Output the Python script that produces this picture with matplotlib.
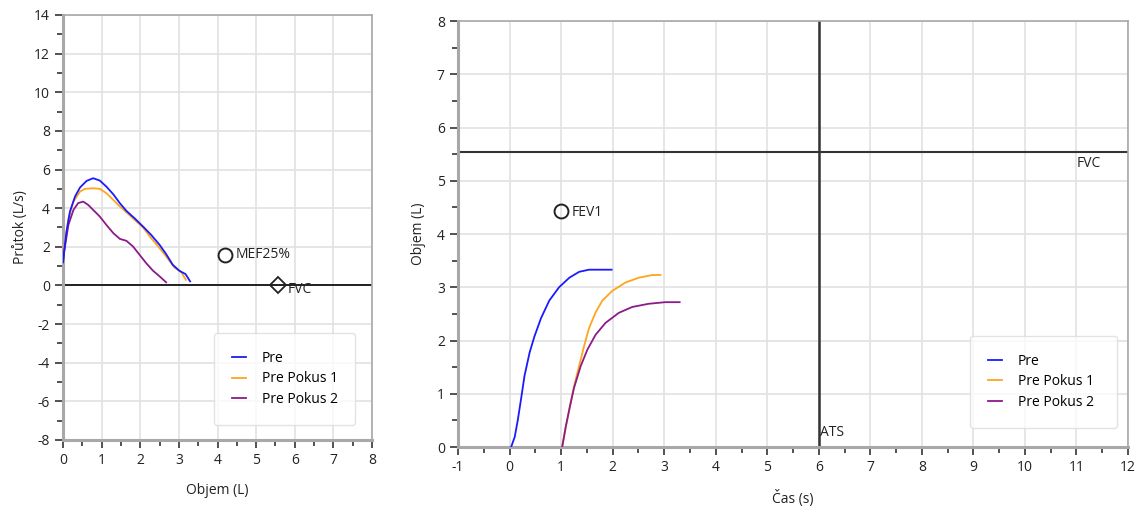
import matplotlib
matplotlib.use("Agg")
import matplotlib.pyplot as plt
from matplotlib.ticker import MultipleLocator

plt.rcParams['font.family'] = ['Open Sans', 'DejaVu Sans']
plt.rcParams['axes.unicode_minus'] = False

# Donnees : courbe debit-volume (gauche)
fv_pre_x = [0.0, 0.03, 0.09, 0.18, 0.31, 0.44, 0.61, 0.78, 0.95, 1.12, 1.30, 1.47, 1.64,
            1.85, 2.07, 2.28, 2.50, 2.67, 2.84, 3.01, 3.17, 3.29]
fv_pre_y = [1.2, 1.76, 2.79, 3.83, 4.60, 5.07, 5.41, 5.55, 5.43, 5.12, 4.72, 4.26, 3.86,
            3.48, 3.05, 2.62, 2.10, 1.62, 1.07, 0.76, 0.59, 0.21]
fv_p1_x = [0.0, 0.03, 0.14, 0.27, 0.44, 0.57, 0.78, 0.95, 1.12, 1.30, 1.47, 1.64, 1.85,
           2.07, 2.28, 2.50, 2.67, 2.88, 3.06, 3.18]
fv_p1_y = [1.2, 1.93, 3.48, 4.34, 4.86, 5.00, 5.03, 5.00, 4.78, 4.43, 4.09, 3.79, 3.40,
           3.00, 2.45, 1.93, 1.50, 0.93, 0.69, 0.29]
fv_p2_x = [0.0, 0.03, 0.14, 0.27, 0.39, 0.52, 0.65, 0.78, 0.95, 1.12, 1.30, 1.47, 1.64,
           1.81, 1.98, 2.15, 2.33, 2.50, 2.67]
fv_p2_y = [1.2, 1.76, 3.14, 3.91, 4.26, 4.34, 4.17, 3.91, 3.57, 3.14, 2.71, 2.41, 2.31,
           2.02, 1.59, 1.16, 0.76, 0.47, 0.16]
mef25 = (4.2, 1.6)
fvc_fv = (5.57, 0.0)

# Donnees : courbe volume-temps (droite)
vt_pre_x = [0.03, 0.10, 0.16, 0.23, 0.29, 0.39, 0.48, 0.61, 0.77, 0.96, 1.16, 1.35, 1.54, 1.98]
vt_pre_y = [0.0, 0.19, 0.51, 0.95, 1.34, 1.78, 2.07, 2.42, 2.75, 3.00, 3.18, 3.29, 3.33, 3.33]
vt_p1_x = [1.02, 1.09, 1.17, 1.25, 1.35, 1.45, 1.54, 1.67, 1.80, 1.99, 2.25, 2.51, 2.77, 2.93]
vt_p1_y = [0.0, 0.38, 0.76, 1.14, 1.53, 1.91, 2.23, 2.53, 2.75, 2.93, 3.09, 3.18, 3.23, 3.23]
vt_p2_x = [1.02, 1.09, 1.17, 1.25, 1.38, 1.51, 1.67, 1.86, 2.12, 2.38, 2.70, 3.02, 3.30]
vt_p2_y = [0.0, 0.38, 0.76, 1.11, 1.52, 1.83, 2.11, 2.33, 2.52, 2.63, 2.69, 2.72, 2.72]
fev1 = (1.0, 4.43)
fvc_vt = 5.54
ats = 6.0

noms = ["Pre", "Pre Pokus 1", "Pre Pokus 2"]
couleurs = ["#1a1aff", "#ffa51a", "#8b1a8b"]


def style_axe(ax):
    ax.grid(True, color="#e2e2e2", linewidth=1.2)
    ax.set_axisbelow(True)
    for s in ax.spines.values():
        s.set_color("#a8a8a8")
        s.set_linewidth(1.2)
    ax.spines['left'].set_linewidth(2.2)
    ax.spines['bottom'].set_linewidth(2.2)
    ax.tick_params(which="both", direction="out", color="#333333", labelsize=10,
                   labelcolor="#222222", top=False, right=False)
    ax.tick_params(which="major", length=6, width=1.2)
    ax.tick_params(which="minor", length=4, width=1.2)


fig = plt.figure(figsize=(11.48, 5.11), dpi=100)

# --- Graphique gauche ---
ax1 = fig.add_axes([0.0549, 0.139, 0.2692, 0.8317])
ax1.plot(fv_pre_x, fv_pre_y, color=couleurs[0], lw=1.3, label=noms[0], zorder=4)
ax1.plot(fv_p1_x, fv_p1_y, color=couleurs[1], lw=1.3, label=noms[1], zorder=3)
ax1.plot(fv_p2_x, fv_p2_y, color=couleurs[2], lw=1.3, label=noms[2], zorder=3)
ax1.axhline(0, color="black", lw=1.2, zorder=2)
ax1.plot(*mef25, marker="o", ms=10, mfc="none", mec="#222222", mew=1.4, ls="none")
ax1.text(mef25[0] + 0.28, mef25[1], "MEF25%", va="center", fontsize=10, color="#222222")
ax1.plot(*fvc_fv, marker="D", ms=8, mfc="none", mec="#222222", mew=1.3, ls="none")
ax1.text(fvc_fv[0] + 0.25, fvc_fv[1] - 0.2, "FVC", va="center", fontsize=10, color="#222222")
ax1.set_xlim(0, 8)
ax1.set_ylim(-8, 14)
ax1.xaxis.set_major_locator(MultipleLocator(1))
ax1.xaxis.set_minor_locator(MultipleLocator(0.5))
ax1.yaxis.set_major_locator(MultipleLocator(2))
ax1.yaxis.set_minor_locator(MultipleLocator(1))
style_axe(ax1)
ax1.set_xlabel("Objem (L)", fontsize=10, labelpad=11, color="#222222")
ax1.set_ylabel("Průtok (L/s)", fontsize=10, labelpad=4, color="#222222")
ax1.legend(loc="lower left", bbox_to_anchor=(0.489, 0.035, 0.456, 0.25), mode="expand",
           fontsize=10, frameon=True, edgecolor="#dddddd", handlelength=1.0,
           borderpad=1.3, labelspacing=0.4, handletextpad=1.15, borderaxespad=0)

# --- Graphique droit ---
ax2 = fig.add_axes([0.399, 0.1252, 0.5836, 0.8337])
ax2.plot(vt_pre_x, vt_pre_y, color=couleurs[0], lw=1.3, label=noms[0], zorder=4)
ax2.plot(vt_p1_x, vt_p1_y, color=couleurs[1], lw=1.3, label=noms[1], zorder=3)
ax2.plot(vt_p2_x, vt_p2_y, color=couleurs[2], lw=1.3, label=noms[2], zorder=3)
ax2.axhline(fvc_vt, color="#333333", lw=1.5, zorder=2)
ax2.axvline(ats, color="#333333", lw=1.8, zorder=2)
ax2.text(11.0, fvc_vt - 0.08, "FVC", va="top", fontsize=10, color="#222222")
ax2.text(ats + 0.02, 0.13, "ATS", va="bottom", fontsize=10, color="#222222")
ax2.plot(*fev1, marker="o", ms=10, mfc="none", mec="#222222", mew=1.4, ls="none")
ax2.text(fev1[0] + 0.2, fev1[1] - 0.02, "FEV1", va="center", fontsize=10, color="#222222")
ax2.set_xlim(-1, 12)
ax2.set_ylim(0, 8)
ax2.xaxis.set_major_locator(MultipleLocator(1))
ax2.xaxis.set_minor_locator(MultipleLocator(0.5))
ax2.yaxis.set_major_locator(MultipleLocator(1))
ax2.yaxis.set_minor_locator(MultipleLocator(0.5))
style_axe(ax2)
ax2.set_xlabel("Čas (s)", fontsize=10, labelpad=11, color="#222222")
ax2.set_ylabel("Objem (L)", fontsize=10, labelpad=8, color="#222222")
ax2.legend(loc="lower left", bbox_to_anchor=(0.764, 0.045, 0.219, 0.21), mode="expand",
           fontsize=10, frameon=True, edgecolor="#dddddd", handlelength=1.0,
           borderpad=1.3, labelspacing=0.4, handletextpad=1.15, borderaxespad=0)

plt.savefig("out.png", dpi=100)
